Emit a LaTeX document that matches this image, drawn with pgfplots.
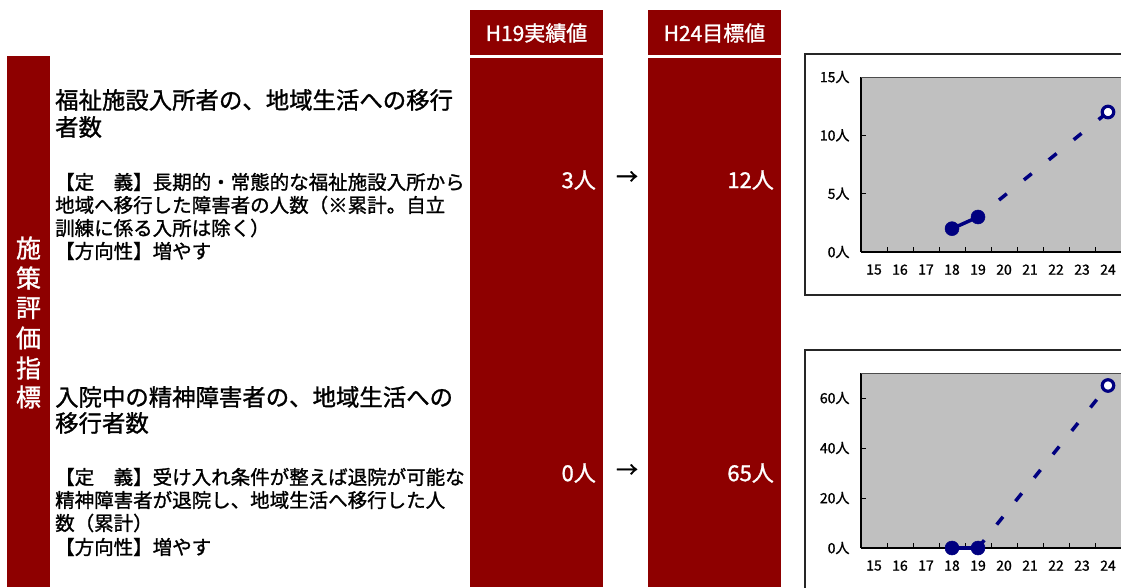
\documentclass[border=0pt]{standalone}
\usepackage{pgfplots}
\pgfplotsset{compat=1.18}
\usepackage{fontspec}
\setmainfont{Noto Sans CJK JP}[RawFeature={embolden=1.2}]
\definecolor{dred}{HTML}{8E0000}
\definecolor{plotgray}{HTML}{C0C0C0}
\definecolor{navyc}{HTML}{000080}
\pgfplotsset{kpi/.style={
  scale only axis, width=260pt, height=175pt,
  xmin=14.5, xmax=24.5, ymin=0,
  axis lines*=left,
  axis line style={line width=1.6pt, black},
  axis background/.style={fill=plotgray},
  xtick={15,...,24},
  xticklabels={15,16,17,18,19,20,21,22,23,24},
  major x tick style={draw=none},
  minor xtick={15.5,16.5,...,23.5},
  minor tick length=5pt,
  minor x tick style={black, line width=0.8pt},
  tick align=inside,
  major tick length=5pt,
  ytick style={black,line width=0.8pt},
  tick label style={font=\fontsize{14}{14}\selectfont},
  xticklabel style={yshift=-9pt},
  yticklabel style={xshift=-8pt},
  clip=false,
}}
\begin{document}
\begin{tikzpicture}[x=1pt,y=1pt]
\useasboundingbox (0,0) rectangle (1121,587);
% left bar
\fill[dred] (7,0) rectangle (50,531);
\foreach \c/\yy in {施/339,策/309,評/279,価/249,指/219,標/190}
  \node[white, inner sep=0, font=\fontsize{25}{25}\selectfont] at (28.5,\yy) {\c};
% columns
\fill[dred] (470,532) rectangle (603,577);
\fill[dred] (470,0) rectangle (603,529);
\fill[dred] (648,532) rectangle (781,577);
\fill[dred] (648,0) rectangle (781,529);
\node[white, inner sep=0, font=\fontsize{21}{21}\selectfont] at (536.5,554) {H19実績値};
\node[white, inner sep=0, font=\fontsize{21}{21}\selectfont] at (714.5,554) {H24目標値};
% values
\node[white, anchor=east, inner sep=0, font=\fontsize{22}{22}\selectfont] at (596,407) {3人};
\node[white, anchor=east, inner sep=0, font=\fontsize{22}{22}\selectfont] at (774,407) {12人};
\node[black, inner sep=0, font=\fontsize{22}{22}\selectfont] at (627,409) {→};
\node[white, anchor=east, inner sep=0, font=\fontsize{22}{22}\selectfont] at (596,114) {0人};
\node[white, anchor=east, inner sep=0, font=\fontsize{22}{22}\selectfont] at (774,114) {65人};
\node[black, inner sep=0, font=\fontsize{22}{22}\selectfont] at (627,116) {→};
% left texts
\begin{scope}[every node/.style={anchor=west, inner sep=0, black}]
\node[font=\fontsize{23.4}{23.4}\selectfont] at (55,487) {福祉施設入所者の、地域生活への移行};
\node[font=\fontsize{23.4}{23.4}\selectfont] at (55,460) {者数};
\node[font=\fontsize{19.5}{19.5}\selectfont] at (55,405) {【定　義】長期的・常態的な福祉施設入所から};
\node[font=\fontsize{19.5}{19.5}\selectfont] at (55,382) {地域へ移行した障害者の人数（※累計。自立};
\node[font=\fontsize{19.5}{19.5}\selectfont] at (55,359) {訓練に係る入所は除く）};
\node[font=\fontsize{19.5}{19.5}\selectfont] at (55,336) {【方向性】増やす};
\node[font=\fontsize{23.4}{23.4}\selectfont] at (55,190) {入院中の精神障害者の、地域生活への};
\node[font=\fontsize{23.4}{23.4}\selectfont] at (55,164) {移行者数};
\node[font=\fontsize{19.5}{19.5}\selectfont] at (55,110) {【定　義】受け入れ条件が整えば退院が可能な};
\node[font=\fontsize{19.5}{19.5}\selectfont] at (55,87) {精神障害者が退院し、地域生活へ移行した人};
\node[font=\fontsize{19.5}{19.5}\selectfont] at (55,64) {数（累計）};
\node[font=\fontsize{19.5}{19.5}\selectfont] at (55,40) {【方向性】増やす};
\end{scope}
% chart frames
\draw[line width=1.3pt, black!85, fill=white] (805,292) rectangle (1140,533);
\draw[line width=1.3pt, black!85, fill=white] (805,-10) rectangle (1140,237);
% chart 1
\begin{axis}[kpi, at={(861pt,335pt)}, anchor=south west, ymax=15,
  ytick={0,5,10,15}, yticklabels={0人,5人,10人,15人}]
\draw[black!70, line width=0.8pt] (rel axis cs:0,1) -- (rel axis cs:1,1);
\addplot[navyc, line width=3.5pt, dash pattern=on 10pt off 22pt, dash phase=5pt] coordinates {(19,3) (24,12)};
\addplot[navyc, line width=3.5pt, mark=*, mark size=7pt, mark options={solid, fill=navyc, line width=0.5pt}] coordinates {(18,2) (19,3)};
\addplot[only marks, mark=*, mark size=5.75pt, mark options={draw=navyc, fill=white, line width=3.2pt}] coordinates {(24,12)};
\end{axis}
% chart 2
\begin{axis}[kpi, at={(861pt,39pt)}, anchor=south west, ymax=70,
  ytick={0,20,40,60}, yticklabels={0人,20人,40人,60人}]
\draw[black!70, line width=0.8pt] (rel axis cs:0,1) -- (rel axis cs:1,1);
\addplot[navyc, line width=3.5pt, dash pattern=on 10pt off 20pt, dash phase=0pt] coordinates {(19,0) (24,65)};
\addplot[navyc, line width=3.5pt, mark=*, mark size=7pt, mark options={solid, fill=navyc, line width=0.5pt}] coordinates {(18,0) (19,0)};
\addplot[only marks, mark=*, mark size=5.75pt, mark options={draw=navyc, fill=white, line width=3.2pt}] coordinates {(24,65)};
\end{axis}
\end{tikzpicture}
\end{document}
